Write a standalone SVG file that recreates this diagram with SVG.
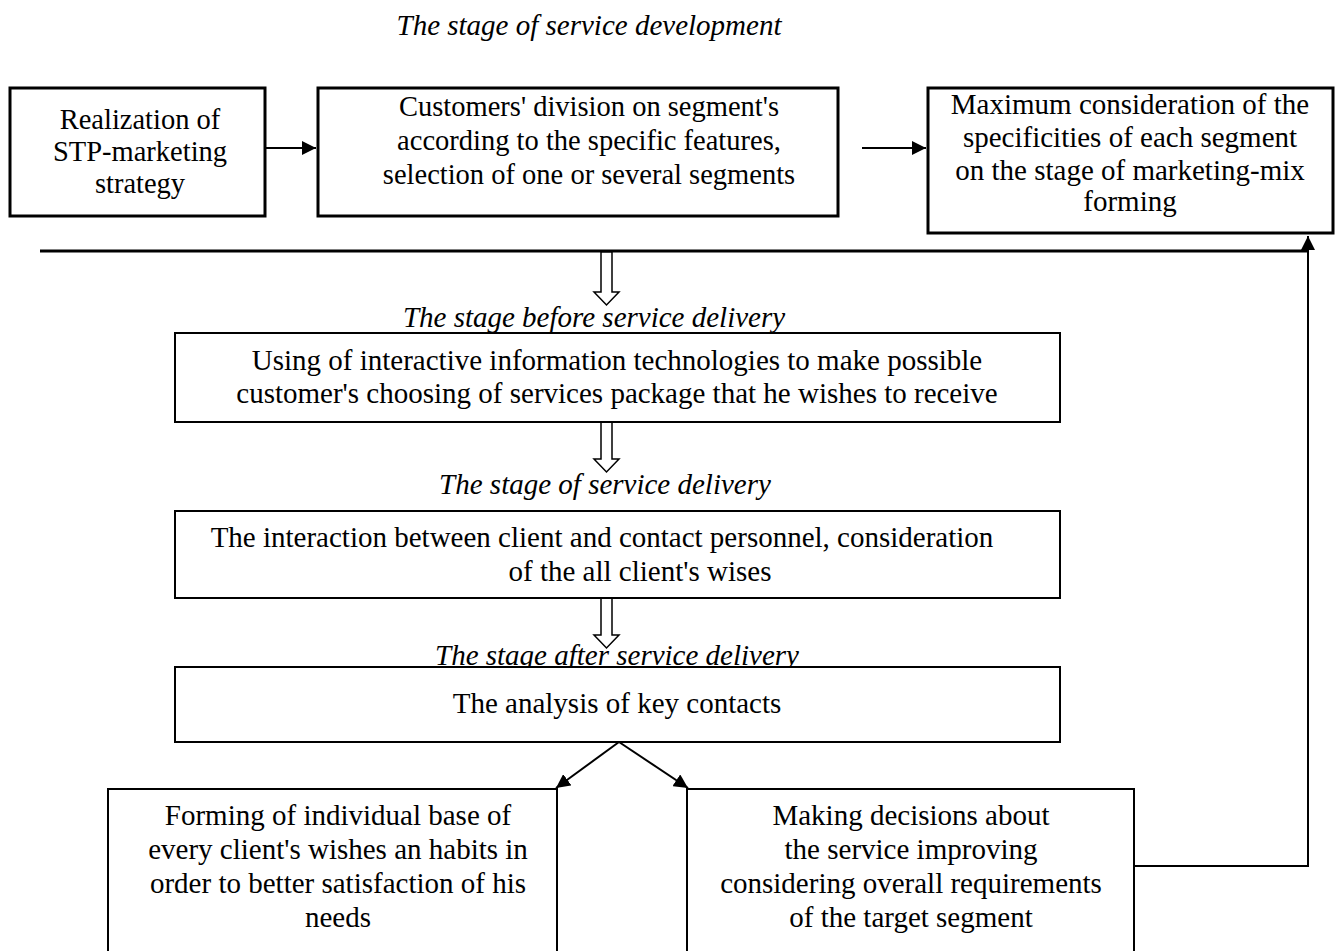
<svg xmlns="http://www.w3.org/2000/svg" width="1337" height="951" viewBox="0 0 1337 951">
<style>
text{font-family:"Liberation Serif","Times New Roman",serif;font-size:29px;fill:#000;text-anchor:middle}
.t{font-size:28.5px}
.it{font-style:italic}
.b3{fill:#fff;stroke:#000;stroke-width:3}
.b2{fill:#fff;stroke:#000;stroke-width:2}
.ln{fill:none;stroke:#000;stroke-width:2}
.hol{fill:#fff;stroke:#000;stroke-width:1.5}
</style>
<defs>
<marker id="ah" viewBox="0 0 10 10" refX="10" refY="5" markerWidth="7" markerHeight="7" markerUnits="strokeWidth" orient="auto">
<path d="M0,0 L10,5 L0,10 Z" fill="#000"/>
</marker>
</defs>
<rect width="1337" height="951" fill="#fff"/>
<text class="it" x="589" y="35">The stage of service development</text>

<g id="connectors">
<line class="ln" x1="258" y1="148" x2="316" y2="148" marker-end="url(#ah)"/>
<line class="ln" x1="862" y1="148" x2="926" y2="148" marker-end="url(#ah)"/>
<line x1="40" y1="251" x2="1308" y2="251" stroke="#000" stroke-width="3"/>
<polyline class="ln" points="1134,866 1308,866 1308,236" marker-end="url(#ah)"/>
<path class="hol" d="M601,252 V292 H594 L606.5,305 L619,292 H612 V252 Z"/>
<path class="hol" d="M601,422 V459 H594 L606.5,472 L619,459 H612 V422 Z"/>
<path class="hol" d="M601,598 V635 H594 L606.5,648 L619,635 H612 V598 Z"/>
<line class="ln" x1="619" y1="742" x2="556" y2="788" marker-end="url(#ah)"/>
<line class="ln" x1="619" y1="742" x2="688" y2="788" marker-end="url(#ah)"/>
</g>

<g id="n1">
<rect class="b3" x="10" y="88" width="255" height="128"/>
<text class="t" x="140" y="129">Realization of</text>
<text class="t" x="140" y="161">STP-marketing</text>
<text class="t" x="140" y="193">strategy</text>
</g>
<g id="n2">
<rect class="b3" x="318" y="88" width="520" height="128"/>
<text class="t" x="589" y="116">Customers' division on segment's</text>
<text class="t" x="589" y="150">according to the specific features,</text>
<text class="t" x="589" y="184">selection of one or several segments</text>
</g>
<g id="n3">
<rect class="b3" x="928" y="88" width="405" height="145"/>
<text x="1130" y="114">Maximum consideration of the</text>
<text x="1130" y="147">specificities of each segment</text>
<text x="1130" y="180">on the stage of marketing-mix</text>
<text x="1130" y="211">forming</text>
</g>

<text class="it" x="594" y="327">The stage before service delivery</text>
<g id="n4">
<rect class="b2" x="175" y="333" width="885" height="89"/>
<text x="617" y="370">Using of interactive information technologies to make possible</text>
<text x="617" y="403">customer's choosing of services package that he wishes to receive</text>
</g>

<text class="it" x="605" y="494">The stage of service delivery</text>
<g id="n5">
<rect class="b2" x="175" y="511" width="885" height="87"/>
<text x="602" y="547">The interaction between client and contact personnel, consideration</text>
<text x="640" y="581">of the all client's wises</text>
</g>

<text class="it" x="617" y="665">The stage after service delivery</text>
<g id="n6">
<rect class="b2" x="175" y="667" width="885" height="75"/>
<text x="617" y="713">The analysis of key contacts</text>
</g>

<g id="n7">
<path class="b2" d="M108,953 V789 H557 V953"/>
<text x="338" y="825">Forming of individual base of</text>
<text x="338" y="859">every client's wishes an habits in</text>
<text x="338" y="893">order to better satisfaction of his</text>
<text x="338" y="927">needs</text>
</g>
<g id="n8">
<path class="b2" d="M687,953 V789 H1134 V953"/>
<text x="911" y="825">Making decisions about</text>
<text x="911" y="859">the service improving</text>
<text x="911" y="893">considering overall requirements</text>
<text x="911" y="927">of the target segment</text>
</g>
</svg>
